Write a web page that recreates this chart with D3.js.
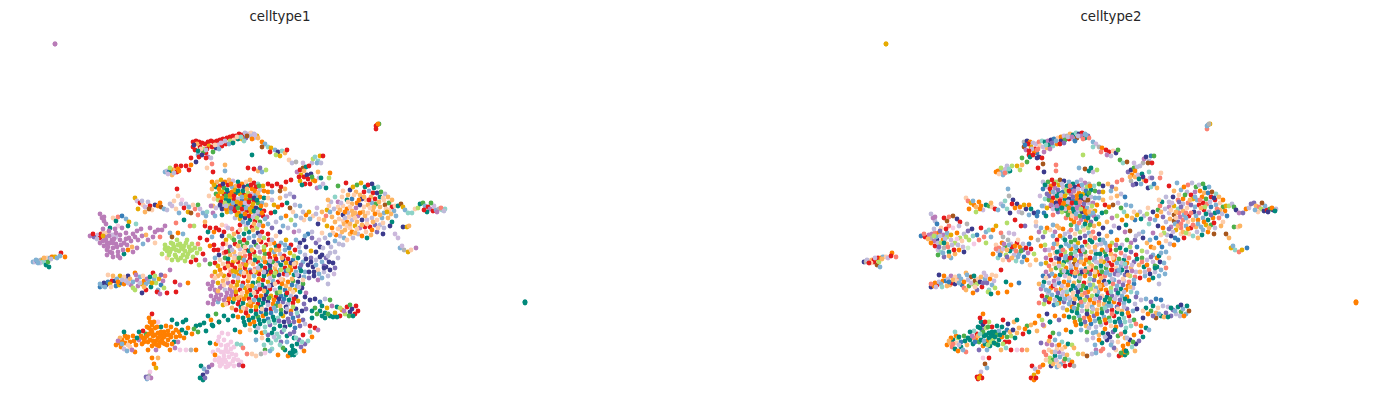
<!DOCTYPE html>
<html><head><meta charset="utf-8">
<script src="https://cdn.jsdelivr.net/npm/d3@7/dist/d3.min.js"></script>
<style>html,body{margin:0;padding:0;background:#fff}svg{display:block}</style></head>
<body><div id="chart"></div>
<script>
const panelTitles = ["celltype1","celltype2"];
const palette = {a:"#e41a1c",b:"#ff7f00",c:"#00897b",d:"#f4cae4",e:"#b97cb8",f:"#b3de69",g:"#4daf4a",h:"#3b3a8c",i:"#7f6db5",j:"#377eb8",k:"#80b1d3",l:"#bebada",m:"#fdb462",n:"#fb8072",o:"#8dd3c7",p:"#e6ab02",q:"#a6561c",r:"#fdcdac",s:"#cbb8dc",t:"#b3b3b3",u:"#ffffb3",v:"#ccebc5"};
// each entry: umap1,umap2,<celltype1 key><celltype2 key>
const outliers = "55,44,ep 55,44,ep 525,302,cb 525,303,cb 525,302,cb 376,129,an 377,125,bk 379,124,gp 376,126,ak 378,124,bt";
const farLeft = "33,262,kh 35,262,lt 37,261,ib 39,261,kr 41,260,tm 43,260,pa 45,259,kp 43,262,oa 46,265,cq 49,267,ck 47,258,ra 50,258,kb 52,257,bk 55,257,pr 57,258,ks 61,253,ab 60,256,ka 65,257,bn 48,262,gf 51,259,lm 36,260,kl 40,263,lr 44,258,ms 38,263,ka";
const ridge = "193,142,at 196,141,ah 199,142,ab 202,143,al 205,144,as 208,142,an 211,141,ao 214,142,ac 217,141,ae 220,140,ah 223,139,aj 227,138,ar 230,137,ab 233,136,as 236,136,at 239,134,am 242,135,ac 245,133,lo 248,134,sh 251,133,ra 254,134,lk 257,136,pi 193,147,aq 195,150,ae 198,155,ka 199,157,ac 204,149,fa 206,153,aj 208,157,eh 211,158,la 213,152,ge 216,148,hm 218,145,sc 222,146,ao 226,144,ab 230,141,fh 234,140,rg 238,139,ca 200,147,ap 203,152,gb 197,144,ma 242,139,pl 246,138,iq 250,136,le 254,138,sc 258,138,mn 262,142,bk 265,144,ks 268,147,ot 271,148,pb 275,150,ka 278,152,ha 282,151,or 285,153,mh 287,150,ag 270,152,an 276,155,fe 280,156,pl 252,155,cf 262,147,qo 194,145,hj 201,149,rl 209,146,pr 212,147,as 207,149,an 215,145,ro 221,143,si 225,141,lk 229,144,ka 233,143,ci 237,137,rl 241,137,oe 247,136,ql 252,139,bn 255,135,sk 244,141,oj 198,151,ca 202,155,ha 206,150,ln 219,149,ke";
const nub = "165,172,kb 167,171,lb 169,172,jb 171,171,ck 173,170,pl 175,169,ms 177,172,ao 179,171,bc 172,175,mk 170,168,ff 176,166,al 181,166,af 186,166,ap 191,165,bm 196,162,hg 191,158,ag 189,170,af 206,158,ah 213,172,ah 212,164,nq 207,168,ra 225,165,mn 225,171,kn 254,169,aq 258,171,mc 262,172,ks 266,170,ff 260,168,ic 248,168,ak 168,174,sr 174,173,ln 178,169,bo";
const upperRight = "289,160,rg 292,163,lo 296,162,tq 303,163,ss 312,163,lt 313,159,fe 315,157,oh 320,156,pj 323,156,ag 318,161,ol 317,163,kq 321,163,la 297,172,ei 300,170,ah 303,168,qg 306,167,cl 309,166,al 301,175,pb 304,177,am 307,175,hs 311,174,hc 313,180,pm 318,172,mo 300,181,pt 305,184,ah 310,184,ak 315,181,ba 319,178,ss 321,178,ci 330,173,br 317,188,eh 320,187,ko 323,184,sj 329,178,fn 326,188,cm 304,171,mb 299,177,am 308,179,ac 312,177,gh 302,185,ci";
const left1 = "135,198,pr 137,201,sn 140,203,ap 143,205,rb 145,207,sm 148,202,lb 150,206,ab 138,209,pb 145,212,mf 152,210,rs 155,205,hc 158,206,bg 161,207,qr 164,209,ka 167,210,lk 170,204,ll 174,201,ro 178,196,rt 177,189,ak 182,200,dh 186,204,lh 184,208,ab 188,212,ps 191,213,qt 195,209,nh 198,205,gb 203,213,kh 207,212,oj 211,206,ek 213,213,ej 220,205,he 198,215,nk 206,216,kj 216,208,sp 222,215,cn 215,216,kc 226,206,le 231,208,ic 205,222,mr 194,226,fi 190,226,na 184,220,ca 179,213,kh 172,206,sk 176,209,ro 181,204,la 189,207,kb 193,205,rp 200,209,sc 160,203,bm 149,209,qb 142,201,lk";
const orchidBlock = "98,235,se 101,234,ae 104,233,rn 90,236,ej 94,237,ia 100,238,at 108,233,rb 112,235,se 116,237,sf 104,221,el 102,218,ee 100,214,el 104,217,ee 113,218,ra 116,221,cq 118,217,nn 122,216,jq 126,219,kh 129,222,pa 136,224,ot 106,224,ej 110,228,cr 118,226,dn 122,228,ed 128,226,cl 112,240,eb 106,240,eh 104,246,ea 107,250,es 110,252,eo 113,248,et 116,244,em 120,240,es 124,243,ef 129,238,ef 133,234,el 137,231,ei 141,229,eh 146,235,mj 150,228,ea 155,232,ek 158,230,eo 148,240,en 143,244,kd 137,248,ev 133,252,eh 128,250,bb 124,254,cm 118,252,ec 120,258,ek 113,257,ei 107,243,el 116,233,ek 103,241,ee 109,236,el 100,243,eb 162,230,eb 165,226,ep 170,233,kn 176,223,nf 105,237,ek 110,243,ef 114,239,el 108,247,ei 112,253,ek 117,247,en 121,245,el 126,239,ed 131,241,er 135,237,ef 126,233,eb 120,235,ep 115,229,ea 109,231,ei 103,229,el 127,245,el 132,247,ms 138,240,ef 142,236,eo 153,237,en 155,243,rf 160,237,nk 118,256,em 123,250,ea 113,243,ec 107,255,eg 97,239,lm 93,234,an 103,236,pf";
const greenBlock = "165,245,fr 168,248,fn 171,243,fb 174,247,fg 177,240,ft 180,244,fs 183,249,fk 186,243,fa 189,247,fb 192,250,fi 170,252,fm 175,255,ff 179,251,fc 183,255,fl 188,254,fk 193,257,fj 197,253,fe 200,249,fa 198,244,nj 162,254,fb 167,258,ro 172,260,fr 178,260,fn 185,261,fo 191,262,ak 196,260,ab 203,254,af 205,260,em 199,265,fr 210,246,bb 207,240,at 200,238,ab 212,237,ki 214,245,af 208,232,ce 216,228,ab 222,236,hk 218,250,as 223,244,ak 183,234,ks 178,233,bs 172,237,qt 226,252,ac 215,258,ke 167,251,fl 172,249,fs 176,250,fm 181,247,fa 185,251,fn 190,251,fg 173,244,fe 178,245,fk 184,246,fb 187,240,fr 192,244,fl 195,248,fa 165,249,fn 169,255,fj 176,257,fi 181,258,fm 187,257,fk";
const band = "100,287,jh 103,286,kb 106,285,ha 104,283,hb 108,282,jl 112,281,ab 115,281,hj 110,284,pk 116,286,jm 119,285,pm 121,283,ja 124,284,bh 127,278,kn 128,276,hk 131,285,ej 133,288,fn 135,290,fm 138,286,eg 142,284,pf 144,281,bq 147,279,er 150,277,cm 154,279,kk 156,283,fi 159,279,pb 161,285,jk 164,288,ff 158,290,ko 120,276,pe 140,277,kq 146,290,ai 151,287,ca 153,273,as 165,276,nr 142,293,hb 135,273,bm 124,277,rr 108,275,rh 113,276,mb 157,292,af 160,294,ec 167,293,ab 176,292,ab 170,270,ea 175,282,ac 180,285,eb 188,283,bj 117,279,kl 122,280,lm 126,281,sr 130,279,mk 133,282,kb 137,280,el 140,283,ls 146,284,kf 149,282,kh 152,283,pi 163,281,es 136,275,ek 143,276,rc 155,276,fs 161,275,ir 105,287,ks 111,287,ro 100,284,kn 144,287,mr 128,283,lk 118,282,bj";
const orangeBlock = "116,345,bb 119,343,bm 121,347,bn 124,349,sc 127,351,kb 130,347,rc 122,340,bc 125,336,bb 124,332,co 127,338,bf 130,342,bj 133,336,bg 136,345,bm 139,340,ec 142,344,bc 145,338,bb 148,342,bg 151,330,bi 153,336,bc 156,341,bb 159,346,bc 162,340,bf 165,344,bg 168,340,bc 171,337,bb 174,342,ca 147,327,bc 150,322,bc 149,318,ba 152,325,bh 146,334,ga 155,328,bf 158,333,bc 161,327,ca 164,332,bc 166,326,bc 168,331,bk 171,327,bc 176,330,bj 180,336,bf 184,338,bc 188,328,bm 192,334,ba 196,326,cg 198,332,gc 200,325,cm 204,323,cb 208,316,cb 211,320,bf 213,326,cm 216,314,gh 219,322,cc 224,316,cb 152,346,bb 156,350,ek 170,350,bm 175,348,eo 180,350,da 186,350,dd 191,350,tn 196,350,bm 148,350,bi 135,352,bn 128,337,bc 120,338,mb 143,331,ao 139,332,cc 152,314,ab 172,320,ca 177,324,ch 183,322,cm 186,320,cc 158,322,df 143,338,bn 147,336,bm 150,340,bc 152,332,bg 155,335,bc 158,338,bc 160,342,bf 163,336,bc 166,335,bg 169,335,bc 149,334,bo 144,342,bj 141,336,be 154,344,bc 157,345,bf 161,332,bc 164,337,bc 173,333,bc 176,337,bg 179,332,bm 167,345,bc 172,344,bf 149,328,bc 154,322,ba 157,327,bg 160,336,bc 163,343,bc 153,341,bk 134,341,bc 137,338,cc 125,343,br 118,341,em 122,344,kn 128,345,rl 132,350,ek 178,342,ea 182,330,ch 186,333,cm 194,329,gb";
const belowOrange = "152,358,bd 158,358,ma 154,364,bq 156,368,pk 150,372,ds 149,376,tb 151,378,ea 147,379,ka 146,377,ia 148,378,sp";
const pinkBlock = "222,333,dg 228,334,dk 224,340,dk 219,337,da 216,344,be 213,352,dn 218,350,dr 226,346,ds 221,345,de 231,342,do 234,347,dm 237,344,oc 241,345,of 243,348,nm 228,352,de 232,354,ds 224,356,dc 219,358,df 222,360,dg 226,362,dr 230,364,dk 234,366,da 220,366,dh 226,367,dk 238,360,do 241,362,db 239,365,ea 243,366,at 215,355,bn 247,354,nf 252,354,rm 256,356,rq 261,354,tl 265,353,dk 270,351,kn 210,343,ci 206,331,cm 212,325,ce 201,366,ca 204,369,kl 207,372,ib 203,375,hp 200,378,ca 203,380,cb 209,367,in 212,365,eb 205,378,ia 221,352,dm 226,349,dr 229,357,dk 225,360,ds 222,364,dm 228,366,dr 233,361,dn 236,355,dm 219,362,df 224,352,dl 231,349,dr 228,345,db 215,360,dr 218,341,dm 234,359,dg";
const rightWing = "405,210,kh 408,213,oe 412,213,oi 415,209,rb 418,208,fl 420,204,ci 423,203,gi 425,206,km 428,207,an 430,209,ef 433,211,ah 436,210,ka 439,209,tg 442,210,oh 445,209,ol 434,206,sk 427,212,cr 424,210,ak 431,203,gq 416,248,ej 404,250,to 408,252,pn 411,250,rp 400,248,kp 402,246,sk 398,238,sm 395,234,sq 437,212,eh 441,208,nb 444,211,lc";
const rightCluster = "338,186,ga 346,183,ak 350,190,hk 353,187,pb 357,185,gn 361,183,pl 365,187,cg 368,185,al 372,184,hg 374,188,cc 378,187,ok 343,191,rm 348,195,mr 352,199,jb 356,192,ml 360,195,ma 364,192,ae 369,191,kb 373,193,am 377,193,hj 381,192,gq 385,194,lo 388,197,mm 384,200,ra 380,197,ca 375,199,ag 371,197,mb 366,200,rk 362,199,hp 357,203,bn 352,204,ml 347,200,cn 342,197,rh 338,202,el 335,197,ol 331,202,lc 328,200,mr 327,210,pg 322,212,mh 317,208,sr 313,216,rl 309,212,pl 310,219,kc 304,220,rj 301,218,lm 296,216,kp 338,207,re 343,206,rp 347,209,bo 352,211,mm 356,208,er 360,205,hi 364,207,rk 368,205,ma 372,203,ka 376,204,gn 380,207,mj 385,205,qk 389,203,gr 392,207,ag 395,206,rp 398,206,cf 401,204,ql 403,207,pg 394,211,kb 389,210,rm 384,213,kc 378,212,rl 373,210,ma 368,213,re 363,212,mh 358,216,ea 353,215,mk 348,213,ln 343,215,hq 338,213,bs 332,217,mi 330,212,km 326,216,nb 343,221,rq 347,222,bi 352,220,ln 357,222,mr 362,220,hm 367,220,sb 372,218,lk 377,220,rc 382,218,kb 388,218,mn 392,222,cr 396,216,kj 340,227,le 345,230,mp 350,228,rn 355,226,pk 360,228,ea 365,227,am 370,227,ak 375,225,ip 380,225,lg 384,228,ll 390,226,hm 358,234,lr 350,234,mr 344,238,kj 340,236,lh 339,244,ll 335,241,kr 331,247,lj 330,253,lk 343,245,lb 347,240,rj 353,238,la 338,229,ri 332,228,bb 327,226,ph 322,233,re 325,238,lj 328,243,hb 318,224,ho 371,235,mc 367,238,cm 362,236,bo 377,232,ib 383,234,hq 403,227,hg 407,227,pr 409,226,mm 340,210,mr 345,212,bm 350,207,ri 355,213,mn 349,217,re 344,224,mk 339,219,rm 335,222,ml 355,218,rk 360,213,bn 365,216,mk 370,208,rm 375,214,bc 380,215,mi 386,209,rn 391,214,ml 383,223,ra 378,228,rm 373,222,mb 367,224,rk 362,225,mn 357,229,rb 352,232,bm 347,226,rm 342,232,ms 336,235,bl 348,202,ri 354,195,rg 359,200,bm 364,197,mk 369,200,an 374,207,mf 379,202,ml 383,198,rh 387,212,pj 392,200,mb 341,203,ss 334,209,ll 329,206,rn 324,220,mk 316,214,lf 319,219,re 306,215,bp 333,233,rf 345,218,lr 350,224,mn 355,233,mf 366,232,rl 372,230,bk";
const centerTop = "212,182,bl 217,182,mg 221,180,pa 225,182,bf 229,180,mq 233,181,sh 238,182,ck 242,184,bc 246,182,rk 250,180,ms 254,183,ae 258,184,ot 263,186,po 268,184,ag 272,186,ah 277,184,am 281,187,ai 286,182,an 291,180,an 212,189,mj 216,187,cs 220,186,ab 224,188,ge 228,185,ap 232,187,ks 236,186,mc 240,189,sj 244,187,hh 248,186,ca 252,189,bs 256,187,af 260,190,lc 264,191,bg 268,192,bi 272,192,kp 280,191,qk 285,189,mm 290,194,ll 294,197,ij 216,194,gi 220,192,pb 224,194,as 228,193,hc 232,192,bj 236,193,cf 240,194,pe 244,195,ar 248,193,fb 252,194,sp 256,195,kc 260,197,bl 264,198,ck 214,199,ro 218,200,fg 222,198,ba 226,200,cm 230,198,pn 234,200,ac 238,199,sh 242,201,jj 246,200,bb 250,199,gh 254,201,aq 258,203,gs 262,203,ke 266,205,mb 220,206,ka 224,206,sk 228,204,fa 232,205,bb 236,206,hg 240,205,pe 244,206,cs 248,205,se 252,207,ba 256,208,hk 260,209,cr 264,211,ap 227,212,pi 231,212,kf 235,211,ag 239,213,bm 243,212,lc 247,211,al 251,212,ph 255,214,sb 259,215,ik 263,216,ae 267,217,ek 235,218,ln 240,219,pb 245,218,hn 250,220,ce 255,221,ab 260,222,gi 265,219,kc 240,225,ag 246,226,sk 252,227,ao 257,228,ff 263,226,bm 268,224,kp 271,213,ac 274,205,pa 275,212,cg 278,207,bb 282,205,aq 287,203,cs 290,208,qg 295,205,lk 272,228,ih 276,222,lm 281,218,ke 286,216,bf 291,220,fb 295,225,kc 299,231,sq 283,226,ks 288,228,lh 294,232,ee 280,232,hj 276,236,rm 272,240,lk 214,185,pc 219,189,ba 223,184,ha 227,190,ci 231,184,bl 235,190,pf 239,186,an 243,191,ce 247,189,ms 251,185,ak 255,191,bj 259,186,gb 222,192,pk 226,196,gc 230,195,bs 234,196,ap 238,191,ca 242,197,ki 246,196,pb 250,196,ac 254,198,hs 258,193,mg 218,196,bi 221,202,ab 225,203,fh 229,201,ca 233,203,kb 237,202,pl 241,203,ba 245,203,sc 249,202,an 253,204,pi 257,200,cq 261,206,bf 222,209,hs 226,209,bc 230,208,pj 234,209,as 238,208,gb 242,209,ac 246,208,ke 250,209,pf 254,211,cb 258,212,lm 262,213,bk 237,215,pg 241,216,cr 245,214,bk 249,216,ag 253,217,sj 257,218,fc 248,223,jn 243,222,kb 254,224,mc 259,225,lg";
const centerMid = "205,226,al 210,228,ak 214,232,bf 219,230,ar 226,226,dm 232,229,nb 232,238,fo 238,232,as 244,234,cr 249,232,cf 254,236,ki 258,233,hk 262,232,an 268,234,ah 222,248,dn 226,240,pa 230,247,ic 235,244,ak 240,242,gg 243,246,gl 247,243,gp 240,249,sb 246,250,ac 251,247,kj 256,245,gf 261,242,ac 266,245,as 271,250,pb 276,246,cl 281,243,kf 286,240,pb 291,245,as 296,240,kg 300,243,he 304,240,hi 308,234,jl 312,238,ih 316,243,im 320,247,hb 306,247,hj 311,251,pf 316,252,hs 322,255,hk 326,258,ib 329,262,hh 326,267,hc 322,262,ks 316,260,ls 311,258,ig 305,255,la 300,252,ki 295,250,ac 290,253,pn 285,250,kg 280,254,lm 275,256,bc 270,258,as 265,254,gc 260,252,em 255,256,fr 250,255,ai 245,256,ns 240,254,rg 235,256,sk 230,255,ma 225,258,gi 220,260,ra 215,263,ap 210,264,gk 228,263,ab 233,262,pc 238,262,al 243,264,nq 248,262,ae 253,264,mb 258,262,af 263,260,ok 268,263,cl 273,262,gp 278,263,ja 283,260,hb 288,259,ag 293,260,jc 298,258,cn 303,262,ki 308,265,hm 313,267,hc 318,270,rn 324,272,ll 330,270,hk 335,268,in 300,268,jm 305,272,ks 295,267,ae 290,266,pk 285,268,ar 280,270,kb 275,268,mg 270,270,co 265,268,ag 260,270,ma 255,269,nc 250,270,kl 245,268,ab 240,270,pk 235,268,ab 230,270,rf 225,268,ag 220,270,bm 215,272,pe 212,276,nj 218,276,mi 224,276,pb 229,275,ac 234,276,ks 239,275,bc 244,276,aj 249,275,mg 254,276,kb 259,274,ai 264,276,cp 269,275,pa 274,276,gn 279,275,hk 284,274,ai 289,273,pk 294,275,ci 299,276,hf 304,277,kn 309,278,ia 314,276,hk 318,280,eb 322,278,kc 228,259,ch 232,265,af 236,260,mg 241,258,bh 246,265,ps 250,259,ak 255,260,cb 260,265,kf 265,262,bs 270,266,hc 276,259,ai 281,265,ca 286,263,pk 291,263,hl 296,263,mb 301,265,is 306,259,hc 311,262,hn 316,265,kb 320,257,hi 324,266,ig 328,256,lc 333,263,hk 231,272,ng 236,272,pc 241,272,ka 246,272,bn 251,272,ah 256,272,pg 261,266,cm 266,272,hb 271,272,ag 276,272,bk 281,270,fa 286,271,ji 291,270,bc 296,272,kh 301,271,ce 309,272,hm 314,272,hl 319,274,kh 324,268,hc 328,276,lk 299,247,lf 294,256,fs 289,248,jc 284,256,an 279,250,ma 274,252,kg 269,254,ac 264,250,pl 259,258,fa 254,252,ag 249,251,ca 244,260,kp 239,258,ga 234,252,mf 229,251,gk 224,253,nr 219,255,hm 214,250,ae 285,245,ke 279,246,ab 274,243,bk 269,240,ac 264,238,fn 259,240,mc 254,242,ha 249,238,kh 244,240,ag 239,237,ki 234,240,gc 229,236,fb 224,232,ae";
const centerLow = "208,284,em 213,282,ec 218,283,pl 223,281,me 228,283,ej 233,282,ab 238,281,pk 243,283,am 248,281,bg 253,283,ca 258,282,gr 263,280,ai 268,282,pb 273,281,kh 278,282,ac 283,280,mk 288,282,be 293,281,gs 298,282,hn 303,284,gj 210,289,ee 215,290,ek 220,288,eb 225,290,ln 230,289,ep 235,288,mr 240,290,ac 245,288,pj 250,290,ag 255,288,kc 260,289,af 265,288,hk 270,289,ab 275,290,sb 280,288,cf 285,290,ji 290,289,mc 295,290,pb 300,292,co 306,293,ek 211,296,ea 216,297,eg 221,295,ek 226,297,ec 231,296,el 236,295,ab 241,297,mr 246,296,pc 251,295,cm 256,297,ai 261,296,bf 266,295,hc 271,296,pr 276,297,ac 281,296,ji 286,295,cs 291,296,lk 296,297,hb 208,303,en 213,304,ef 218,302,ka 223,305,pj 228,303,ab 233,302,ci 238,304,ak 243,303,ch 248,305,pg 253,302,bl 258,304,ar 263,303,cb 268,302,hn 273,304,bm 278,303,jc 283,302,ib 288,304,la 293,303,ak 298,301,pc 304,304,il 236,310,ap 241,311,bc 246,309,ng 251,311,cs 256,310,ag 261,312,jf 266,310,hm 271,309,ag 276,311,ki 281,310,ga 286,312,hc 291,311,bm 296,309,hi 219,322,bc 228,320,ci 233,316,cb 238,317,bc 243,318,cg 248,316,bk 253,318,cn 258,317,gb 263,316,bi 268,319,jc 273,317,ck 278,318,og 283,316,pa 288,319,ic 293,318,jo 298,316,ia 303,320,ig 245,325,cb 250,324,bc 255,326,cm 260,324,cj 265,327,ol 270,325,il 275,323,oa 280,326,cr 285,327,hb 290,325,ci 295,328,jo 300,326,io 305,324,ln 310,326,ab 235,330,cb 240,332,bc 256,332,cg 262,333,bk 268,335,im 272,333,cc 277,334,oh 282,332,ii 287,336,cg 294,332,ic 271,343,oc 276,340,oh 281,342,il 264,345,ok 268,340,cb 272,349,on 285,350,cr 294,338,cm 297,344,cb 293,350,cb 291,355,cb 294,355,cc 278,355,bl 288,356,ba 283,348,gi 265,350,ge 301,347,io 305,344,ih 308,341,oi 312,337,bc 303,335,ab 315,328,ac 318,330,ek 310,332,oa 304,351,bm 296,353,og 212,286,ek 217,293,el 222,286,ea 227,293,ei 232,292,es 237,285,pb 242,286,kc 247,292,bh 252,286,pg 257,292,ab 262,285,cf 267,292,ck 272,285,hb 277,293,ga 282,284,bn 287,293,ac 292,285,ji 297,286,kb 302,288,hs 214,300,ei 219,299,ep 224,300,el 229,299,bc 234,299,pk 239,300,ak 244,299,bm 249,299,ac 254,300,kf 259,300,cb 264,299,hs 269,298,gi 274,300,bc 279,299,hg 284,299,jl 289,300,ci 294,299,ac 241,307,cb 246,313,ac 251,306,bk 256,314,ch 261,307,ck 266,314,cb 271,313,jc 276,306,gk 281,314,cn 286,307,hi 291,314,ic 297,313,ob 302,311,hk 306,309,ih 244,322,cb 249,320,cg 254,322,bi 259,320,cb 264,321,ck 269,322,og 274,320,cb 279,321,io 284,322,hc 289,322,ij 294,322,io 299,321,bl 284,330,oc 290,334,in 279,337,oh 274,329,cb 299,340,ih 302,342,og 292,346,cb 293,352,cb 295,351,cc 290,353,cg";
const lowerRight = "305,297,hi 310,300,hl 315,299,hk 320,302,ji 325,299,lj 330,300,gj 315,308,gc 320,311,cg 325,313,cm 330,316,cc 335,313,pi 340,316,ai 345,314,fl 350,312,hg 355,314,ak 358,311,aq 352,309,hk 347,307,ac 342,310,pi 337,307,cs 332,306,el 327,308,pr 322,306,cc 317,314,gb 312,318,ch 325,318,cq 312,311,cr 340,308,fc 356,306,ac 350,305,gh 328,314,gk 333,317,cm 322,316,ci 337,317,cc 344,311,ek 349,316,gl 353,316,cb";
const lightOverlay = "215,278,rr 221,274,mk 227,279,rs 233,271,pl 238,278,sr 244,273,rm 249,278,ml 254,271,rn 259,279,po 264,272,lr 270,278,sm 275,273,fk 281,279,rl 287,275,ss 292,279,mr 297,275,lm 303,280,rk 218,291,mk 224,285,rl 231,286,ms 236,292,po 242,293,rr 248,286,ml 254,293,rn 259,285,sk 264,291,mr 269,286,lm 275,284,rs 280,292,fo 286,286,mk 293,292,rl 299,287,sm 226,304,ro 232,308,ml 238,298,ms 243,308,rk 250,302,mn 256,307,pr 262,309,rl 268,305,sm 274,308,ko 280,306,mk 287,309,lr 293,307,fl 250,262,rm 258,268,lr 264,258,mk 270,261,sm 276,265,rl 282,258,mr 288,270,fk 294,264,ro 240,266,ml 234,258,rk 228,266,ms 223,264,rr 218,266,pn 245,247,rk 252,250,ml 258,247,sr 264,247,fm 270,244,rl 276,250,ms 226,244,rm 232,250,ln 238,246,mk 244,252,ro 222,225,rk 228,228,sm 234,234,ml 240,230,rn 246,229,fk 253,230,mr 260,236,lr 209,196,rs 213,206,ml 268,198,rk 272,200,sm 280,198,mr 286,196,lm 293,212,ro 300,206,kk 303,212,lr 305,236,kl 312,232,lk 319,240,sk 323,248,lm 330,235,kr 335,252,lk 338,258,lr 334,274,sk 328,284,ll 296,338,ol 287,342,kr 280,345,ok 274,337,ll 262,338,rs 256,340,kl 265,332,ok 258,328,ll 250,330,rk";
const pointGroups = [outliers,farLeft,centerLow,centerMid,centerTop,rightCluster,lightOverlay,orchidBlock,greenBlock,band,orangeBlock,belowOrange,pinkBlock,ridge,nub,upperRight,left1,rightWing,lowerRight];

const W = 1391, H = 407;
const panelOffsets = [0, 831];
const points = pointGroups.flatMap(g => g.split(" ").map(s => {
  const [u1, u2, k] = s.split(",");
  return {u1: +u1, u2: +u2, keys: [k[0], k[1]]};
}));
const svg = d3.select("#chart").append("svg").attr("width", W).attr("height", H);
panelTitles.forEach((title, p) => {
  const x = d3.scaleLinear().domain([0, 560]).range([panelOffsets[p], panelOffsets[p] + 560]);
  const y = d3.scaleLinear().domain([0, 407]).range([0, 407]);
  const g = svg.append("g");
  g.selectAll("circle").data(points).join("circle")
    .attr("cx", d => x(d.u1)).attr("cy", d => y(d.u2)).attr("r", 2.4)
    .attr("fill", d => palette[d.keys[p]]);
  g.append("text").attr("x", x(280)).attr("y", 20.5).attr("text-anchor", "middle")
    .attr("font-family", "DejaVu Sans").attr("font-size", 13.3).attr("fill", "#262626").text(title);
});
</script></body></html>
